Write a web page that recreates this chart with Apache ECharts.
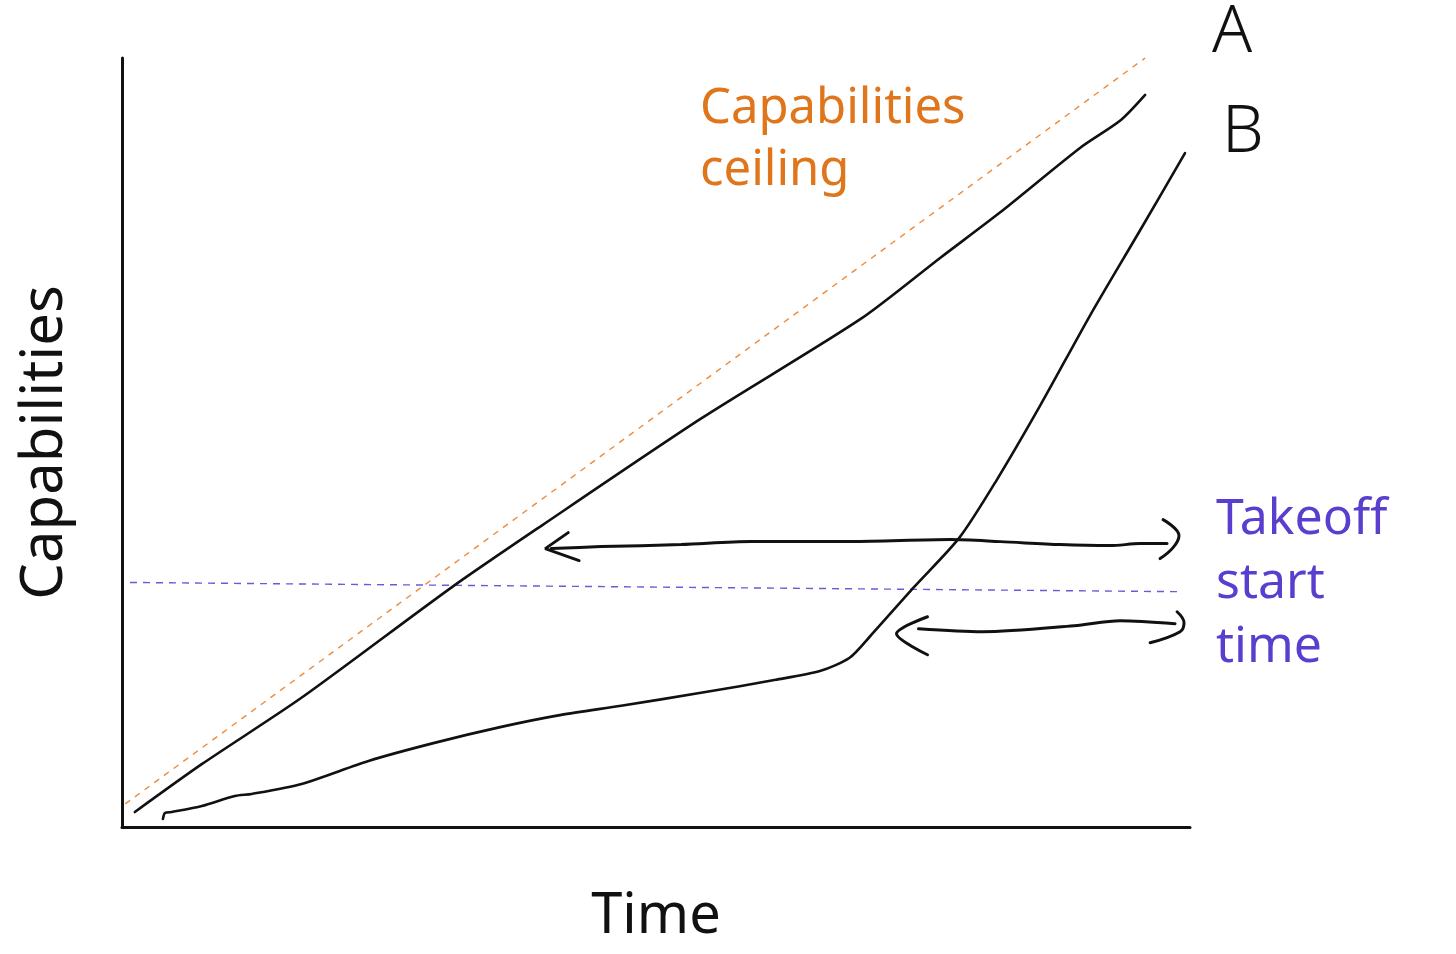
<!DOCTYPE html>
<html><head><meta charset="utf-8">
<script src="https://cdn.jsdelivr.net/npm/echarts@6/dist/echarts.min.js"></script>
<style>html,body{margin:0;padding:0;background:#fff}#c{width:1456px;height:954px}</style>
</head><body><div id="c"></div>
<script>
// Data in abstract units: Time 0-100, Capabilities 0-100
const lineA = [[1.2,1.95],[7.5,8.2],[16.8,16.8],[30.8,31.1],[39.3,39.2],[54.2,53.1],[69.2,66.1],[76.6,74.0],[82.2,79.9],[89.7,88.3],[93.5,91.9],[95.8,95.2]];
const lineB = [[3.83,1.04],[4.02,1.82],[4.67,1.95],[7.48,2.73],[10.56,4.04],[12.15,4.30],[16.82,5.60],[23.08,8.59],[29.25,10.94],[35.51,13.02],[41.12,14.58],[46.73,15.76],[54.21,17.45],[61.21,19.14],[65.42,20.31],[68.13,22.01],[70.09,24.87],[74.11,31.12],[78.41,37.63],[81.87,45.05],[85.98,54.82],[90.65,66.54],[95.33,77.60],[99.53,87.63]];
const ceiling = [[0.3,3.0],[95.8,100]];
const takeoffLevel = [[0.75,31.8],[99.1,30.6]];
const arrow1Shaft = [[40.19,36.20],[44.86,36.46],[52.34,36.72],[58.88,37.11],[68.22,37.11],[77.57,37.37],[82.24,37.11],[87.85,36.72],[92.52,36.59],[95.33,36.85],[97.85,36.85]];
const arrow1Left = [[41.78,38.28],[39.63,36.20],[42.80,34.64]];
const arrow1Right = [[97.48,39.97],[98.97,37.89],[98.41,36.33],[97.20,34.90]];
const arrow2Shaft = [[74.58,25.78],[80.56,25.39],[89.16,26.17],[93.46,26.82],[98.60,26.43]];
const arrow2Left = [[75.42,27.34],[72.52,25.13],[75.42,22.40]];
const arrow2Right = [[98.79,27.99],[99.44,26.56],[99.07,25.39],[96.26,23.96]];
const labels = {x:'Time', y:'Capabilities', ceiling:['Capabilities','ceiling'], takeoff:['Takeoff','start','time'], a:'A', b:'B'};

const FONT = 'Noto Sans';
const ORANGE = '#e0761c', PURPLE = '#5a3fce';
function ln(data, opts){
  return Object.assign({type:'line', data, symbol:'none', silent:true, animation:false,
    lineStyle:{color:'#111', width:2.6, cap:'round', join:'round'}}, opts||{});
}
const chart = echarts.init(document.getElementById('c'));
chart.setOption({
  backgroundColor:'#fff',
  animation:false,
  grid:{left:122, right:266, top:58, bottom:127, outerBoundsMode:'none', containLabel:false},
  xAxis:{type:'value', min:0, max:100, name:labels.x, nameLocation:'middle', nameGap:62,
    nameTextStyle:{fontFamily:FONT, fontSize:56, color:'#111'},
    axisLine:{lineStyle:{color:'#111', width:3}}, axisTick:{show:false}, axisLabel:{show:false}, splitLine:{show:false}},
  yAxis:{type:'value', min:0, max:100, name:labels.y, nameLocation:'middle', nameGap:48,
    nameTextStyle:{fontFamily:FONT, fontSize:58, color:'#111'},
    axisLine:{show:true, lineStyle:{color:'#111', width:3}}, axisTick:{show:false}, axisLabel:{show:false}, splitLine:{show:false}},
  series:[
    ln(ceiling,{lineStyle:{color:'#ee8a3a', width:1.4, type:[6,6]}}),
    ln(takeoffLevel,{lineStyle:{color:'#6a5ad8', width:1.4, type:[7,6]}}),
    ln(lineA,{smooth:0.25}),
    ln(lineB,{smooth:0.25}),
    ln(arrow1Shaft,{smooth:0.3, lineStyle:{color:'#111', width:3, cap:'round'}}),
    ln(arrow1Left,{lineStyle:{color:'#111', width:3, cap:'round'}}),
    ln(arrow1Right,{smooth:0.4, lineStyle:{color:'#111', width:3, cap:'round'}}),
    ln(arrow2Shaft,{smooth:0.3, lineStyle:{color:'#111', width:3, cap:'round'}}),
    ln(arrow2Left,{smooth:0.3, lineStyle:{color:'#111', width:3, cap:'round'}}),
    ln(arrow2Right,{smooth:0.4, lineStyle:{color:'#111', width:3, cap:'round'}})
  ],
  graphic:[
    {type:'text', left:700, top:78, style:{text:labels.ceiling.join('\n'), fill:ORANGE, font:'49px "Noto Sans"', lineHeight:62}},
    {type:'text', left:1212, top:0, style:{text:labels.a, fill:'#111', font:'300 66px "Noto Sans"'}},
    {type:'text', left:1222, top:100, style:{text:labels.b, fill:'#111', font:'300 66px "Noto Sans"'}},
    {type:'text', left:1216, top:488, style:{text:labels.takeoff.join('\n'), fill:PURPLE, font:'50px "Noto Sans"', lineHeight:64}}
  ]
});
</script></body></html>
